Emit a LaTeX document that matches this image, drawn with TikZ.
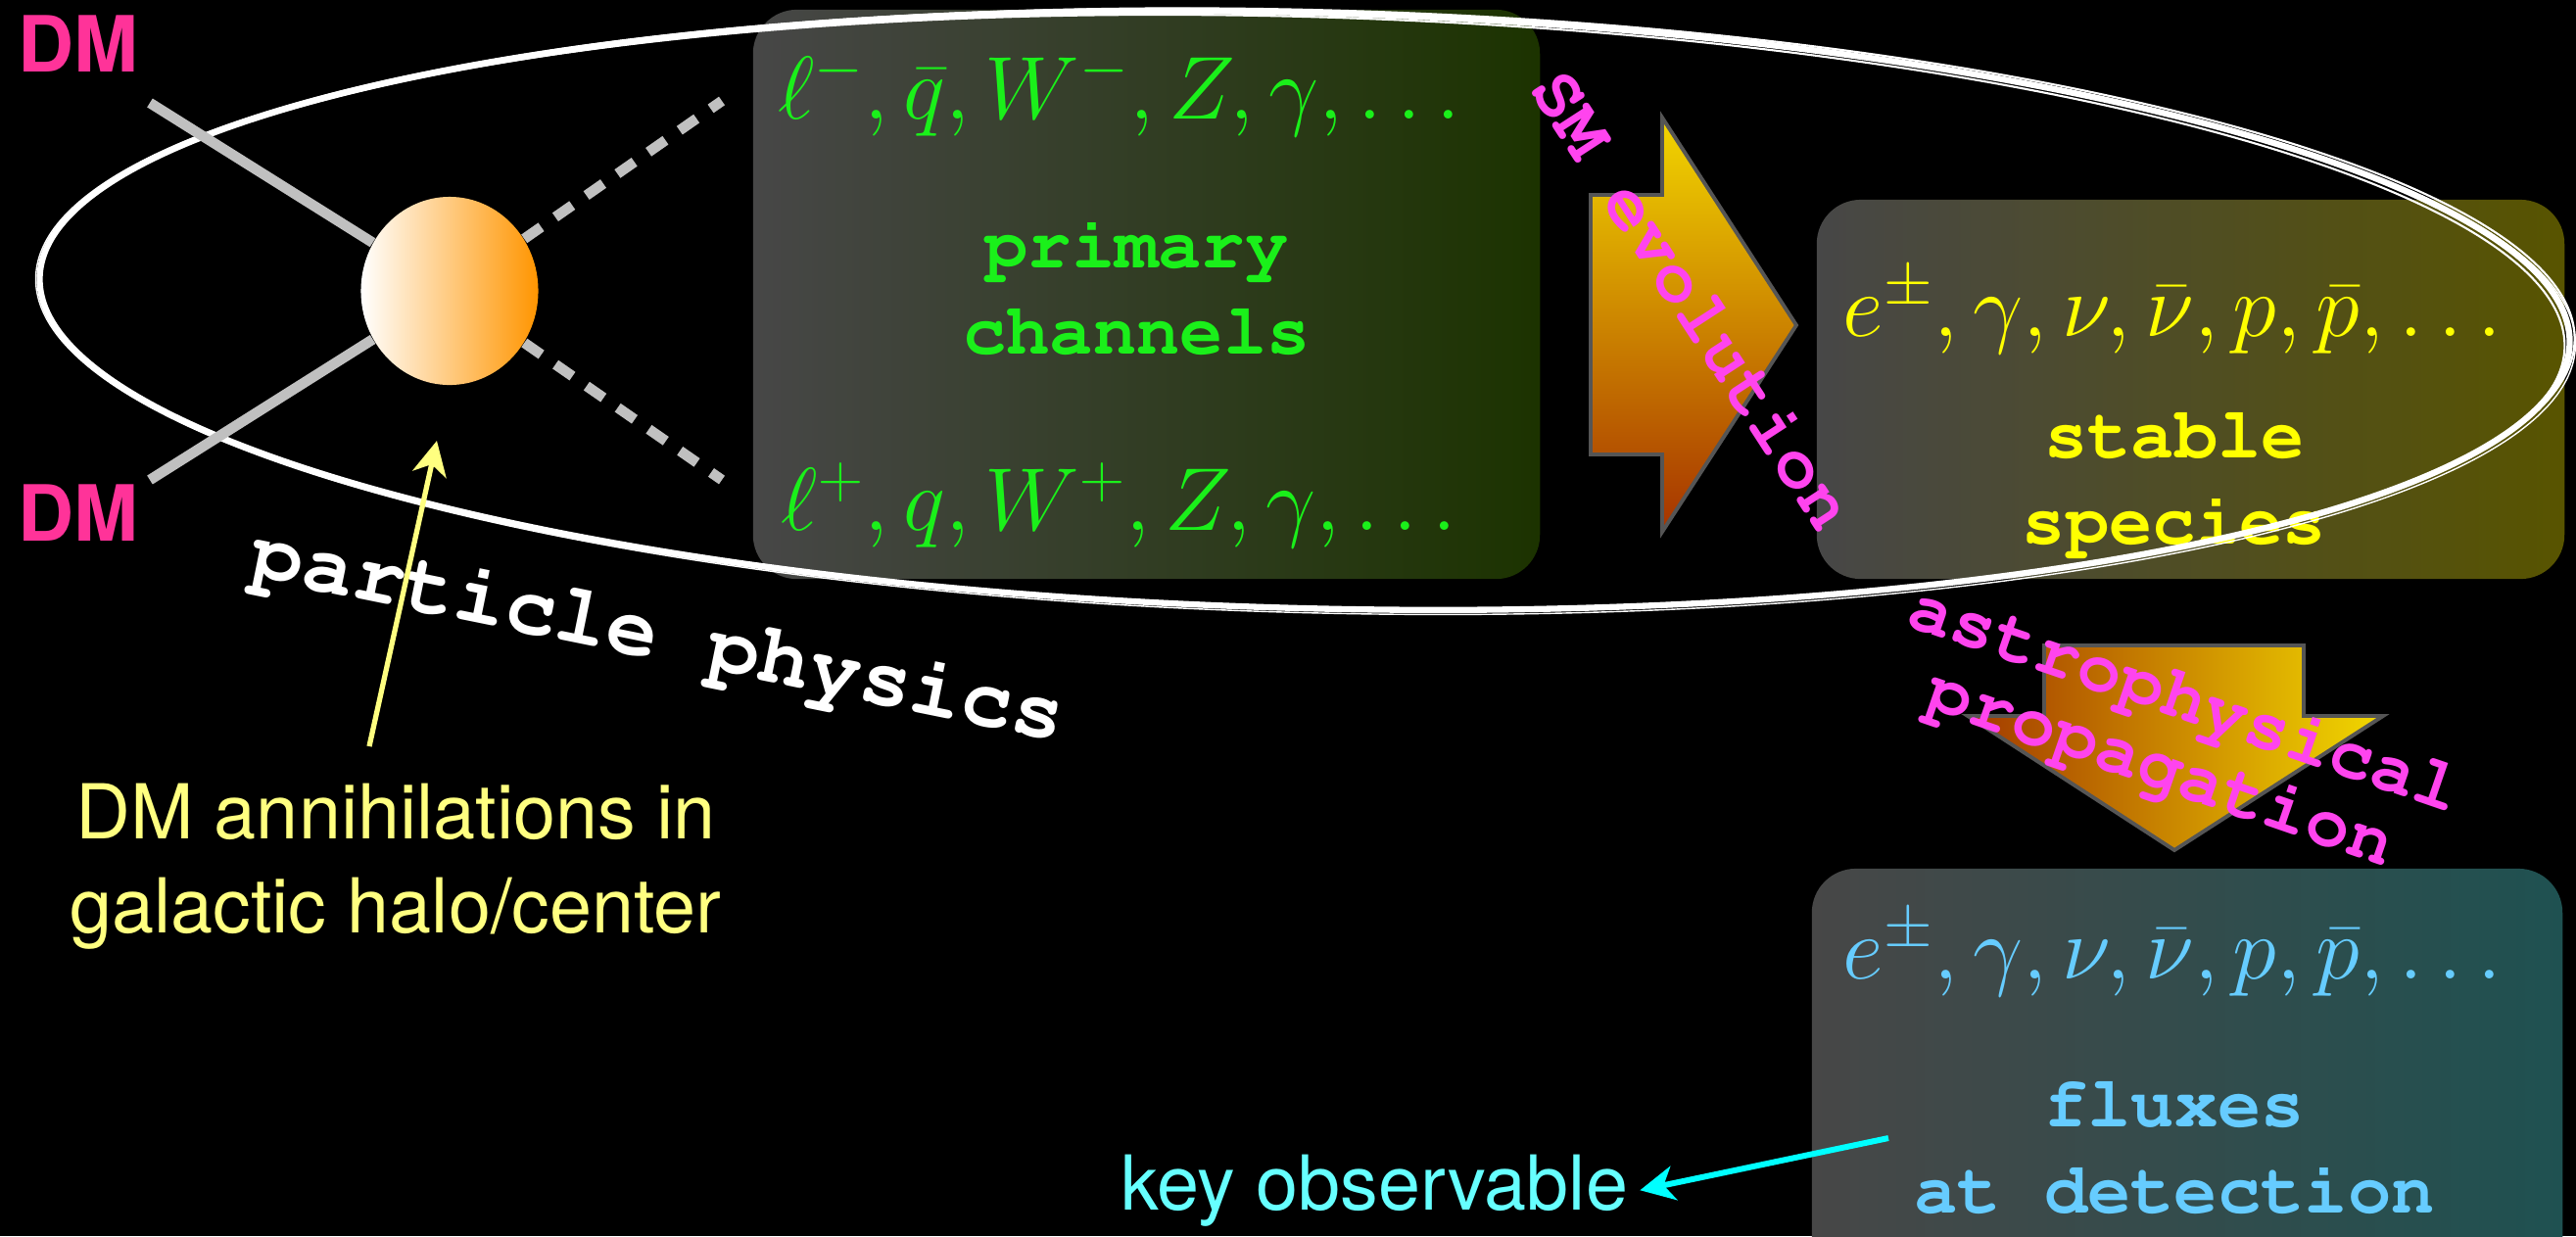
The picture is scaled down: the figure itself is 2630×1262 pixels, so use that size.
\documentclass[tikz,border=0pt]{standalone}
\usepackage{fix-cm}
\usepackage{amsmath,amssymb}
\usepackage[T1]{fontenc}
\usepackage{fontspec}
\usetikzlibrary{positioning,arrows.meta,calc,shapes.geometric}
\newfontfamily\heros{TeX Gyre Heros}
\newcommand{\courbf}{\fontencoding{T1}\fontfamily{pcr}\fontseries{b}\selectfont}
\definecolor{dmpink}{HTML}{FF3399}
\definecolor{leggrey}{HTML}{C0C0C0}
\definecolor{blobedge}{HTML}{FF9500}
\definecolor{boxgrey}{HTML}{474747}
\definecolor{primdark}{HTML}{1C3300}
\definecolor{stabdark}{HTML}{585400}
\definecolor{fluxdark}{HTML}{1F5151}
\definecolor{primtext}{HTML}{1AF01A}
\definecolor{stabtext}{HTML}{FFFF00}
\definecolor{fluxtext}{HTML}{66CCFF}
\definecolor{procmag}{HTML}{FF44EE}
\definecolor{arrowedge}{HTML}{555555}
\definecolor{smtop}{HTML}{F2D600}
\definecolor{smbot}{HTML}{A63300}
\definecolor{propleft}{HTML}{A33A00}
\definecolor{propright}{HTML}{F2D800}
\definecolor{noteyellow}{HTML}{FFFF80}
\definecolor{keycyan}{HTML}{66FFFF}
\definecolor{keyarrow}{HTML}{00FFFF}

\begin{document}
\begin{tikzpicture}[
    x=0.01cm, y=-0.01cm,
    box/.style={rectangle, rounded corners=0.45cm, inner sep=0pt, left color=boxgrey},
    primbox/.style={box, right color=primdark, minimum width=8.03cm, minimum height=5.81cm},
    stabbox/.style={box, right color=stabdark, minimum width=7.63cm, minimum height=3.87cm},
    fluxbox/.style={box, right color=fluxdark, minimum width=7.66cm, minimum height=4.33cm},
    species/.style={font=\fontsize{25.9}{30}\selectfont, anchor=base, inner sep=0pt},
    tag/.style={font=\courbf\fontsize{21}{25}\selectfont, align=center, anchor=base, inner sep=0pt},
    process/.style={font=\courbf\fontsize{21.5}{21}\selectfont, text=procmag, align=center, inner sep=0pt},
    dmlabel/.style={font=\heros\bfseries\fontsize{22.5}{27}\selectfont, text=dmpink,
                    anchor=base west, inner sep=0pt},
    note/.style={font=\heros\fontsize{22}{27.3}\selectfont, align=center, anchor=base},
    blob/.style={ellipse, minimum width=1.81cm, minimum height=1.92cm, inner sep=0pt,
                 left color=white, right color=blobedge},
    leg/.style={draw=leggrey, line width=3pt},
    jet/.style={leg, dash pattern=on 6pt off 5pt},
    bigarrow/.style={draw=arrowedge, line width=1.1pt, line join=miter},
    pointer/.style={-{Stealth[length=10pt, width=10pt, inset=3pt]}},
]
\fill[black] (0,0) rectangle (2630,1262);
\useasboundingbox (0,0) rectangle (2630,1262);

% ---------------- Boxes ----------------
\node[primbox] (prim) at (1170.5,300.5) {};
\node[stabbox] (stab) at (2236.5,397.5) {};
\node[fluxbox] (flux) at (2233,1103.5) {};

% ---------------- Block arrows ----------------
\draw[bigarrow, top color=smtop, bottom color=smbot]
  (1624,199) -- (1697,199) -- (1697,120) -- (1834,332) -- (1697,543)
  -- (1697,464) -- (1624,464) -- cycle;
\draw[bigarrow, left color=propleft, right color=propright]
  (2087,659) -- (2352,659) -- (2352,731) -- (2433,731) -- (2220,868)
  -- (2009,731) -- (2087,731) -- cycle;

% ---------------- Box contents ----------------
\node[species, text=primtext] (primtop) at ($(prim.north)+(-27.5,112)$)
  {$\ell^-, \bar{q}, W^-, Z, \gamma, \ldots$};
\node[tag, text=primtext] (primtag) at ($(prim.north)+(-10,352)$) {primary\\channels};
\node[species, text=primtext] (primbot) at ($(prim.south)+(-27.5,-50)$)
  {$\ell^+, q, W^+, Z, \gamma, \ldots$};

\node[species, text=stabtext] (stabtop) at ($(stab.north)+(-18.5,140)$)
  {$e^{\pm}, \gamma, \nu, \bar{\nu}, p, \bar{p}, \ldots$};
\node[tag, text=stabtext] (stabtag) at ($(stab.north)+(-16.5,352)$) {stable\\species};

\node[species, text=fluxtext] (fluxtop) at ($(flux.north)+(-15,113)$)
  {$e^{\pm}, \gamma, \nu, \bar{\nu}, p, \bar{p}, \ldots$};
\node[tag, text=fluxtext] (fluxtag) at ($(flux.north)+(-13,352)$) {fluxes\\at detection};

% process labels
\node[process, rotate=-57] (smevo) at (1729,305) {SM evolution};
\node[process, rotate=-19] (astro) at (2218,750) {astrophysical\\propagation};

% ---------------- Particle physics loop ----------------
\foreach \cx/\cy/\dr/\rot/\w in {0/0/0/-1.5/1.8pt, 2/-1/3/-1.4/0.6pt, -2/2/-3/-1.6/0.6pt, 1/1/5/-1.55/0.4pt}
  \draw[white, line width=\w, rotate around={\rot:(1332,317)}]
    (1332+\cx,317+\cy) ellipse [x radius=1292+\dr, y radius=304+0.7*\dr];

\node[font=\courbf\fontsize{25}{30}\selectfont, text=white, rotate=-11.5] (pp)
  at (672,650) {particle physics};

% ---------------- Annihilation vertex ----------------
\node[blob] (blob) at (459,297) {};
\coordinate (dmin1) at (153,105);
\coordinate (dmin2) at (153,490);
\coordinate (jet1) at (737,103);
\coordinate (jet2) at (737,490);
\foreach \c in {dmin1, dmin2}
  \draw[leg] (\c) -- (blob);
\foreach \c in {jet1, jet2}
  \draw[jet] (blob) -- (\c);

\node[dmlabel] (dm1) at (18,73) {DM};
\node[dmlabel] (dm2) at (18,552) {DM};

% ---------------- Annotations ----------------
\node[note, text=noteyellow] (annot) at (404,952) {DM annihilations in\\galactic halo/center};
\coordinate (annfoot) at (377,762);
\coordinate (anntip) at (446,450);
\draw[pointer, noteyellow, line width=1.5pt] (annfoot) -- (anntip);

\node[note, text=keycyan] (keyobs) at (1403,1235) {key observable};
\coordinate (fluxfoot) at (1928,1162);
\draw[pointer, keyarrow, line width=1.7pt] (fluxfoot) -- (keyobs.east);

\end{tikzpicture}
\end{document}
